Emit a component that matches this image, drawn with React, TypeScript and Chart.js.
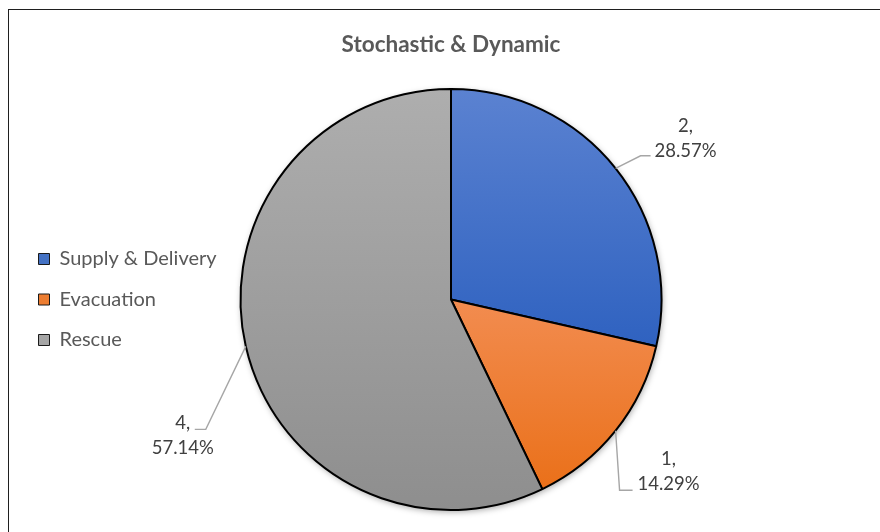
import React, { useEffect, useRef } from "react";
import { Chart, registerables } from "chart.js";

Chart.register(...registerables);

// ---- data ----
const categories = ["Supply & Delivery", "Evacuation", "Rescue"];
const counts = [2, 1, 4];
const titleText = "Stochastic & Dynamic";

// ---- styles ----
const flatColors = ["#4472C4", "#ED7D31", "#A5A5A5"];
const topColors = ["#5B82D1", "#F28C50", "#AEAEAE"];
const bottomColors = ["#2F62C0", "#EA7019", "#8E8E8E"];
// per label: [textMidDx, textMidDy, elbowDx, elbowDy, endDx, endDy]
const labelLayout = [
  [70, -30, 25, -12.5, 35, -12.5],
  [53, 40.5, 4, 59.5, 17, 59.5],
  [-63, 89.5, -40, 83, -51, 83],
];

const W = 880;
const H = 532;
const FONT = "Lato, 'Open Sans', sans-serif";
const legendFontSize = 20;
const legendPad = 20.5;
const legendBox = 11;
const padLeft = 18;
const pieCenterX = 451;

function total() {
  return counts.reduce((a, b) => a + b, 0);
}

function sliceGradient(ctx: any) {
  const chart = ctx.chart;
  const area = chart.chartArea;
  const i = ctx.dataIndex;
  if (!area || i === undefined) return flatColors[i ?? 0];
  const cx = (area.left + area.right) / 2;
  const cy = (area.top + area.bottom) / 2;
  const r = Math.min(area.right - area.left, area.bottom - area.top) / 2;
  const t = total();
  let before = 0;
  for (let k = 0; k < i; k++) before += counts[k];
  const a0 = -Math.PI / 2 + (before / t) * 2 * Math.PI;
  const a1 = a0 + (counts[i] / t) * 2 * Math.PI;
  const ys = [cy, cy + r * Math.sin(a0), cy + r * Math.sin(a1)];
  for (const a of [Math.PI / 2, (3 * Math.PI) / 2]) {
    if (a > a0 && a < a1) ys.push(cy + r * Math.sin(a));
  }
  const g = chart.ctx.createLinearGradient(0, Math.min(...ys), 0, Math.max(...ys));
  g.addColorStop(0, topColors[i]);
  g.addColorStop(1, bottomColors[i]);
  return g;
}

const framePlugin = {
  id: "frame",
  beforeDraw(chart: any) {
    const c = chart.ctx;
    c.save();
    c.fillStyle = "#ffffff";
    c.fillRect(0, 0, chart.width, chart.height);
    c.strokeStyle = "#1f1f1f";
    c.lineWidth = 1;
    c.strokeRect(8.5, 9.5, 2000, 2000);
    c.restore();
  },
};

// soft shadow beneath the pie, using the arc geometry computed by Chart.js
const shadowPlugin = {
  id: "pieShadow",
  beforeDatasetsDraw(chart: any) {
    const meta = chart.getDatasetMeta(0);
    const el = meta.data[0];
    if (!el) return;
    const { x, y, outerRadius } = el.getProps(["x", "y", "outerRadius"], true);
    const c = chart.ctx;
    c.save();
    c.shadowColor = "rgba(0,0,0,0.35)";
    c.shadowBlur = 6;
    c.shadowOffsetX = 1;
    c.shadowOffsetY = 2;
    c.fillStyle = "#9a9a9a";
    c.beginPath();
    c.arc(x, y, outerRadius, 0, Math.PI * 2);
    c.fill();
    c.restore();
  },
};

const labelPlugin = {
  id: "sliceLabels",
  afterDatasetsDraw(chart: any) {
    const meta = chart.getDatasetMeta(0);
    const c = chart.ctx;
    const t = total();
    c.save();
    meta.data.forEach((el: any, i: number) => {
      const { x, y, startAngle, endAngle, outerRadius } = el.getProps(
        ["x", "y", "startAngle", "endAngle", "outerRadius"],
        true
      );
      const mid = (startAngle + endAngle) / 2;
      const ax = x + Math.cos(mid) * outerRadius;
      const ay = y + Math.sin(mid) * outerRadius;
      const [tdx, tdy, edx, edy, ndx, ndy] = labelLayout[i];
      c.strokeStyle = "#A6A6A6";
      c.lineWidth = 1.4;
      c.beginPath();
      c.moveTo(ax, ay);
      c.lineTo(ax + edx, ay + edy);
      c.lineTo(ax + ndx, ay + ndy);
      c.stroke();
      c.fillStyle = "#404040";
      c.font = `18.5px ${FONT}`;
      c.textAlign = "center";
      c.textBaseline = "middle";
      const pct = ((counts[i] / t) * 100).toFixed(2) + "%";
      const tx = ax + tdx;
      const ty = ay + tdy;
      c.fillText(`${counts[i]},`, tx, ty - 12.5);
      c.fillText(pct, tx, ty + 12.5);
    });
    c.restore();
  },
};

export default function App() {
  const ref = useRef<HTMLCanvasElement | null>(null);

  useEffect(() => {
    const canvas = ref.current;
    if (!canvas) return;

    const chart = new Chart(canvas, {
      type: "pie",
      data: {
        labels: categories,
        datasets: [
          {
            data: counts,
            backgroundColor: sliceGradient as any,
            borderColor: "#000000",
            borderWidth: 2,
          },
        ],
      },
      options: {
        responsive: false,
        animation: false,
        devicePixelRatio: 1,
        layout: {
          padding: { left: padLeft, right: 200, top: 0, bottom: 21 },
        },
        plugins: {
          title: {
            display: true,
            text: titleText,
            fullSize: false,
            color: "#595959",
            font: { family: FONT, size: 22.5, weight: "bold" },
            padding: { top: 31.5, bottom: 29.5 },
          },
          legend: {
            display: true,
            position: "left",
            fullSize: false,
            labels: {
              boxWidth: legendBox,
              boxHeight: legendBox,
              padding: legendPad,
              color: "#595959",
              font: { family: FONT, size: legendFontSize },
              generateLabels: () =>
                categories.map((c, i) => ({
                  text: c,
                  fillStyle: flatColors[i],
                  strokeStyle: "#1a1a1a",
                  lineWidth: 1,
                  hidden: false,
                  index: i,
                  fontColor: "#595959",
                })),
            },
          },
          tooltip: { enabled: false },
        },
      },
      plugins: [framePlugin, shadowPlugin, labelPlugin],
    });
    // centre the pie horizontally where the reference has it
    const left = chart.chartArea.left;
    const right = 2 * pieCenterX - left;
    (chart.options.layout as any).padding.right = W - right;
    chart.update();
    return () => chart.destroy();
  }, []);

  return (
    <div style={{ position: "absolute", left: 0, top: 0, width: W, height: H, background: "#fff" }}>
      <canvas ref={ref} width={W} height={H} style={{ width: W, height: H, display: "block" }} />
    </div>
  );
}
